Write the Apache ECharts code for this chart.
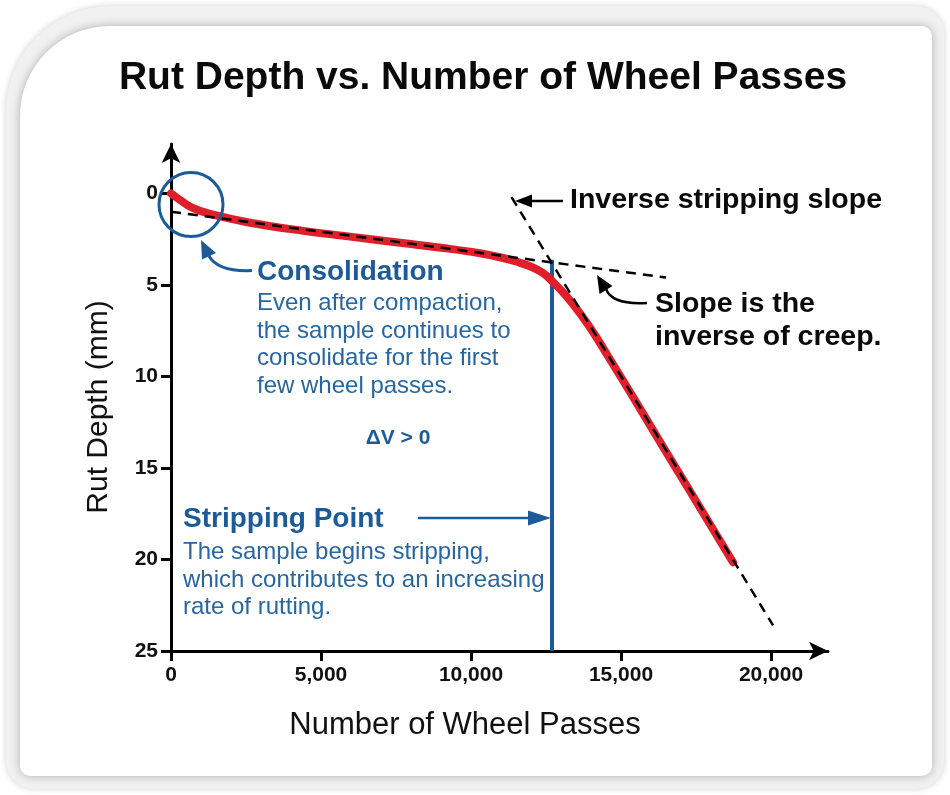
<!DOCTYPE html>
<html><head><meta charset="utf-8">
<script src="https://cdn.jsdelivr.net/npm/echarts@6/dist/echarts.min.js"></script>
<style>html,body{margin:0;padding:0;background:#fff}#c{width:950px;height:795px}</style>
</head><body><div id="c"></div>
<script>
// ---- data ----
const xTicks = [0, 5000, 10000, 15000, 20000];
const yTicks = [0, 5, 10, 15, 20, 25];
const rutX = [0, 300, 700, 1300, 2633, 4300, 5967, 7633, 9300, 10300, 11000, 11500, 11967, 12400, 12800, 13200, 13633, 14100, 14533, 15300, 16200, 17200, 18067, 18733];
const rutY = [0, 0.36, 0.78, 1.12, 1.6, 2.02, 2.36, 2.7, 3.03, 3.27, 3.5, 3.72, 3.98, 4.35, 4.95, 5.65, 6.55, 7.65, 8.8, 10.85, 13.3, 16.0, 18.35, 20.15];
const creepX = [0, 16500];
const creepY = [1.0, 4.6];
const stripSlopeX = [11350, 20070];
const stripSlopeY = [0.2, 23.6];
const stripPointX = [12700, 12700];
const stripPointY = [3.63, 25];

const pairs = (xs, ys) => xs.map((x, i) => [x, ys[i]]);
const BLUE = '#1c5b98', BLUE2 = '#2766a1';
const FF = '"Liberation Sans", Arial, Helvetica, sans-serif';

const chart = echarts.init(document.getElementById('c'), null, {renderer: 'canvas'});

const txt = (text, x, y, size, weight, color, align) => ({
  type: 'text', z: 100,
  style: {text, x, y, font: `${weight} ${size}px ${FF}`, fill: color, textAlign: align || 'left', textVerticalAlign: 'middle'}
});

const graphics = [
  {type: 'rect', z: -10, shape: {x: 6, y: 6, width: 938, height: 783, r: [105, 28, 28, 28]},
   style: {fill: '#f1f1f1', shadowBlur: 6, shadowColor: 'rgba(0,0,0,0.18)'}},
  {type: 'rect', z: -9, shape: {x: 20, y: 26, width: 912, height: 750, r: [90, 10, 10, 10]},
   style: {fill: '#ffffff', shadowBlur: 10, shadowColor: 'rgba(0,0,0,0.28)'}},
  txt('Rut Depth vs. Number of Wheel Passes', 483, 78, 39, 'bold', '#0a0a0a', 'center'),
  txt('Number of Wheel Passes', 465, 725, 31, 'normal', '#111', 'center'),
  {type: 'text', z: 100, x: 99, y: 407, rotation: Math.PI / 2,
   style: {text: 'Rut Depth (mm)', x: 0, y: 0, font: `normal 30px ${FF}`, fill: '#111', textAlign: 'center', textVerticalAlign: 'middle'}},
  // consolidation
  {type: 'circle', z: 60, shape: {cx: 191, cy: 204.5, r: 32}, style: {fill: 'none', stroke: BLUE, lineWidth: 3}},
  {type: 'bezierCurve', z: 60, shape: {x1: 252, y1: 270.5, cpx1: 218, cpy1: 272, x2: 209, y2: 256}, style: {stroke: BLUE, lineWidth: 3, fill: 'none'}},
  {type: 'polygon', z: 60, shape: {points: [[201, 240], [216, 253], [202, 259.5]]}, style: {fill: BLUE}},
  txt('Consolidation', 257, 272, 28, 'bold', BLUE),
  txt('Even after compaction,', 257, 303, 24, 'normal', BLUE2),
  txt('the sample continues to', 257, 331, 24, 'normal', BLUE2),
  txt('consolidate for the first', 257, 358, 24, 'normal', BLUE2),
  txt('few wheel passes.', 257, 386, 24, 'normal', BLUE2),
  txt('ΔV > 0', 398, 438, 21, 'bold', BLUE, 'center'),
  // stripping point
  txt('Stripping Point', 183, 519, 28, 'bold', BLUE),
  txt('The sample begins stripping,', 183, 552, 24, 'normal', BLUE2),
  txt('which contributes to an increasing', 183, 580, 24, 'normal', BLUE2),
  txt('rate of rutting.', 183, 607, 24, 'normal', BLUE2),
  {type: 'line', z: 60, shape: {x1: 418, y1: 518, x2: 532, y2: 518}, style: {stroke: BLUE, lineWidth: 2.5}},
  {type: 'polygon', z: 60, shape: {points: [[551, 518], [528, 510.5], [528, 525.5]]}, style: {fill: BLUE}},
  // inverse stripping slope
  txt('Inverse stripping slope', 570, 200, 28.5, 'bold', '#0a0a0a'),
  {type: 'line', z: 60, shape: {x1: 563, y1: 201, x2: 528, y2: 201}, style: {stroke: '#000', lineWidth: 2.5}},
  {type: 'polygon', z: 60, shape: {points: [[515, 201], [532, 194.5], [532, 207.5]]}, style: {fill: '#000'}},
  // slope is the inverse of creep
  txt('Slope is the', 655, 304, 28.5, 'bold', '#0a0a0a'),
  txt('inverse of creep.', 655, 337, 28.5, 'bold', '#0a0a0a'),
  {type: 'bezierCurve', z: 60, shape: {x1: 647, y1: 303, cpx1: 612, cpy1: 305, x2: 606, y2: 289}, style: {stroke: '#000', lineWidth: 2.5, fill: 'none'}},
  {type: 'polygon', z: 60, shape: {points: [[597, 275], [612.5, 286], [599.5, 294]]}, style: {fill: '#000'}}
];

const axisLabelStyle = {fontFamily: FF, fontWeight: 'bold', fontSize: 21, color: '#111'};

chart.setOption({
  backgroundColor: '#ffffff',
  animation: false,
  grid: {left: 171, right: 122, top: 144, bottom: 144, containLabel: false},
  xAxis: {
    type: 'value', min: 0, max: 21900,
    splitLine: {show: false},
    axisLine: {show: true, onZero: false, lineStyle: {color: '#000', width: 3}, symbol: ['none', 'arrow'], symbolSize: [14, 19]},
    axisTick: {show: true, length: 10, lineStyle: {color: '#000', width: 3}, customValues: xTicks},
    axisLabel: Object.assign({margin: 14, customValues: xTicks, formatter: v => v === 0 ? '0' : v.toLocaleString('en-US')}, axisLabelStyle)
  },
  yAxis: {
    type: 'value', inverse: true, min: -2.7, max: 25,
    splitLine: {show: false},
    axisLine: {show: true, onZero: false, lineStyle: {color: '#000', width: 3}, symbol: ['none', 'arrow'], symbolSize: [14, 19]},
    axisTick: {show: true, length: 10, lineStyle: {color: '#000', width: 3}, customValues: yTicks},
    axisLabel: Object.assign({margin: 13, customValues: yTicks}, axisLabelStyle)
  },
  graphic: graphics,
  series: [
    {type: 'line', name: 'Rut depth', data: pairs(rutX, rutY), smooth: 0.4, showSymbol: false, z: 3,
     lineStyle: {color: '#e01f2a', width: 8, cap: 'round', join: 'round'}},
    {type: 'line', name: 'Stripping point', data: pairs(stripPointX, stripPointY), showSymbol: false, z: 2,
     lineStyle: {color: '#1d5c9b', width: 4}},
    {type: 'line', name: 'Creep slope', data: pairs(creepX, creepY), showSymbol: false, z: 5,
     lineStyle: {color: '#000', width: 2.5, type: [10, 7]}},
    {type: 'line', name: 'Inverse stripping slope', data: pairs(stripSlopeX, stripSlopeY), showSymbol: false, z: 5,
     lineStyle: {color: '#000', width: 2.5, type: [10, 7]}}
  ]
});
</script>
</body></html>
